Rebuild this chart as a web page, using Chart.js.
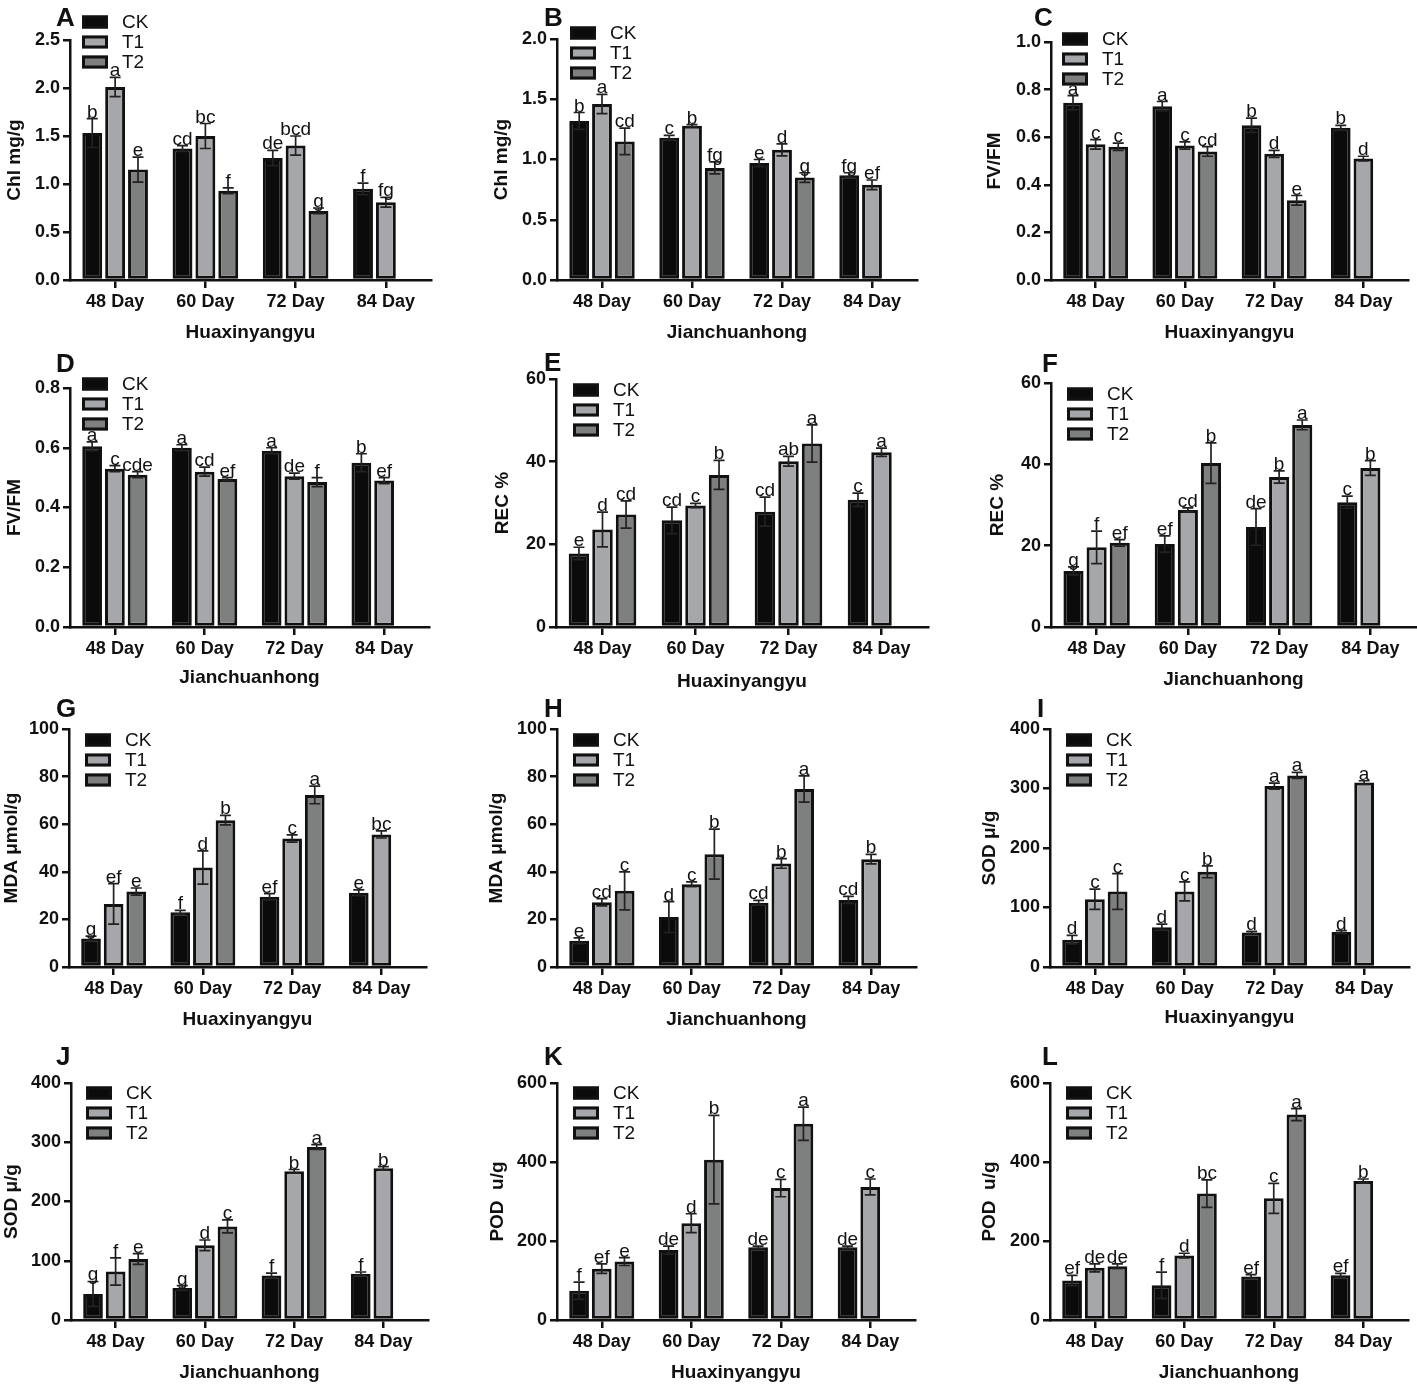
<!DOCTYPE html>
<html lang="en">
<head>
<meta charset="UTF-8">
<title>Chl, FV/FM, REC, MDA, SOD and POD under CK, T1, T2</title>
<script src="https://cdn.jsdelivr.net/npm/chart.js@4.4.0/dist/chart.umd.min.js"></script>
<style>
  body { margin: 0; background: #fff; }
  #wrap { position: relative; width: 1417px; height: 1384px; }
  #wrap canvas { position: absolute; }
</style>
</head>
<body>
<div id="wrap"></div>
<script>
const days = ['48 Day', '60 Day', '72 Day', '84 Day'];
const series = ['CK', 'T1', 'T2'];

// rows are CK, T1, T2 ; T2 was not measured at 84 Day
// A  Chl, Huaxinyangyu
const chlHx = [[1.53, 1.37, 1.27, 0.95], [2.01, 1.50, 1.40, 0.81], [1.15, 0.93, 0.72, null]];
const chlHxErr = [[0.15, 0.03, 0.08, 0.06], [0.10, 0.13, 0.10, 0.05], [0.13, 0.03, 0.03, null]];
const chlHxSig = [['b', 'cd', 'de', 'f'], ['a', 'bc', 'bcd', 'fg'], ['e', 'f', 'g', '']];
// B  Chl, Jianchuanhong
const chlJc = [[1.32, 1.18, 0.97, 0.87], [1.46, 1.28, 1.08, 0.79], [1.15, 0.93, 0.85, null]];
const chlJcErr = [[0.07, 0.02, 0.03, 0.02], [0.08, 0.01, 0.05, 0.04], [0.11, 0.05, 0.04, null]];
const chlJcSig = [['b', 'c', 'e', 'fg'], ['a', 'b', 'd', 'ef'], ['cd', 'fg', 'g', '']];
// C  FV/FM, Huaxinyangyu
const fvHx = [[0.745, 0.73, 0.65, 0.64], [0.57, 0.565, 0.53, 0.51], [0.56, 0.54, 0.335, null]];
const fvHxErr = [[0.03, 0.02, 0.03, 0.01], [0.02, 0.015, 0.015, 0.01], [0.015, 0.02, 0.02, null]];
const fvHxSig = [['a', 'a', 'b', 'b'], ['c', 'c', 'd', 'd'], ['c', 'cd', 'e', '']];
// D  FV/FM, Jianchuanhong
const fvJc = [[0.605, 0.60, 0.59, 0.55], [0.53, 0.52, 0.505, 0.49], [0.51, 0.495, 0.485, null]];
const fvJcErr = [[0.015, 0.01, 0.01, 0.03], [0.01, 0.015, 0.01, 0.01], [0.01, 0.005, 0.015, null]];
const fvJcSig = [['a', 'a', 'a', 'b'], ['c', 'cd', 'de', 'ef'], ['cde', 'ef', 'f', '']];
// E  REC %, Huaxinyangyu
const recHx = [[17.8, 25.8, 27.9, 30.8], [23.6, 29.4, 40.1, 42.3], [27.2, 36.8, 44.4, null]];
const recHxErr = [[1.5, 3.2, 3.5, 1.6], [4.2, 0.5, 1.2, 1.0], [3.3, 3.5, 4.5, null]];
const recHxSig = [['e', 'cd', 'cd', 'c'], ['d', 'c', 'ab', 'a'], ['cd', 'b', 'a', '']];
// F  REC %, Jianchuanhong
const recJc = [[13.8, 20.4, 24.6, 30.7], [19.6, 28.8, 36.9, 39.1], [20.7, 40.3, 49.7, null]];
const recJcErr = [[1.0, 2.0, 4.5, 1.5], [4.0, 0.5, 1.5, 1.8], [0.8, 5.0, 1.2, null]];
const recJcSig = [['g', 'ef', 'de', 'c'], ['f', 'cd', 'b', 'b'], ['ef', 'b', 'a', '']];
// G  MDA, Huaxinyangyu
const mdaHx = [[12, 23, 29.5, 31.2], [26.5, 41.8, 54, 55.7], [31.7, 61.7, 72.3, null]];
const mdaHxErr = [[1, 0.8, 1.3, 1.2], [8.5, 7, 1.5, 1.5], [1.5, 2, 3.7, null]];
const mdaHxSig = [['g', 'f', 'ef', 'e'], ['ef', 'd', 'c', 'bc'], ['e', 'b', 'a', '']];
// H  MDA, Jianchuanhong
const mdaJc = [[11, 21, 27, 28.2], [27.2, 34.8, 43.5, 45.3], [32, 47.4, 74.8, null]];
const mdaJcErr = [[1.2, 6.5, 1, 1.5], [1.5, 1, 2, 2], [8, 10.5, 5.5, null]];
const mdaJcSig = [['e', 'd', 'cd', 'cd'], ['cd', 'c', 'b', 'b'], ['c', 'b', 'a', '']];
// I  SOD, Huaxinyangyu
const sodHx = [[46, 67, 58, 59], [114, 127, 304, 310], [127, 160, 322, null]];
const sodHxErr = [[7, 5, 2, 2], [17, 16, 5, 3], [30, 10, 5, null]];
const sodHxSig = [['d', 'd', 'd', 'd'], ['c', 'c', 'a', 'a'], ['c', 'b', 'a', '']];
// J  SOD, Jianchuanhong
const sodJc = [[44, 54, 75, 78], [82, 126, 251, 256], [103, 158, 292, null]];
const sodJcErr = [[21, 4, 4, 3], [23, 9, 3, 3], [9, 11, 4, null]];
const sodJcSig = [['g', 'g', 'f', 'f'], ['f', 'd', 'b', 'b'], ['e', 'c', 'a', '']];
// K  POD, Huaxinyangyu
const podHx = [[74, 177, 184, 184], [130, 245, 334, 337], [148, 406, 497, null]];
const podHxErr = [[22, 10, 3, 3], [12, 24, 22, 20], [10, 112, 42, null]];
const podHxSig = [['f', 'de', 'de', 'de'], ['ef', 'd', 'c', 'c'], ['e', 'b', 'a', '']];
// L  POD, Jianchuanhong
const podJc = [[100, 88, 110, 113], [132, 163, 308, 352], [136, 320, 520, null]];
const podJcErr = [[13, 33, 5, 5], [10, 6, 38, 5], [6, 35, 15, null]];
const podJcSig = [['ef', 'f', 'ef', 'ef'], ['de', 'd', 'c', 'b'], ['de', 'bc', 'a', '']];

const chlTicksA = [0, 0.5, 1.0, 1.5, 2.0, 2.5];
const chlTicksB = [0, 0.5, 1.0, 1.5, 2.0];
const fvTicksC = [0, 0.2, 0.4, 0.6, 0.8, 1.0];
const fvTicksD = [0, 0.2, 0.4, 0.6, 0.8];
const recTicks = [0, 20, 40, 60];
const mdaTicks = [0, 20, 40, 60, 80, 100];
const sodTicks = [0, 100, 200, 300, 400];
const podTicks = [0, 200, 400, 600];

const panels = [
  { id: 'A', y: 'Chl mg/g', x: 'Huaxinyangyu', vals: chlHx, errs: chlHxErr, sig: chlHxSig, ticks: chlTicksA, dec: 1 },
  { id: 'B', y: 'Chl mg/g', x: 'Jianchuanhong', vals: chlJc, errs: chlJcErr, sig: chlJcSig, ticks: chlTicksB, dec: 1 },
  { id: 'C', y: 'FV/FM', x: 'Huaxinyangyu', vals: fvHx, errs: fvHxErr, sig: fvHxSig, ticks: fvTicksC, dec: 1 },
  { id: 'D', y: 'FV/FM', x: 'Jianchuanhong', vals: fvJc, errs: fvJcErr, sig: fvJcSig, ticks: fvTicksD, dec: 1 },
  { id: 'E', y: 'REC %', x: 'Huaxinyangyu', vals: recHx, errs: recHxErr, sig: recHxSig, ticks: recTicks, dec: 0 },
  { id: 'F', y: 'REC %', x: 'Jianchuanhong', vals: recJc, errs: recJcErr, sig: recJcSig, ticks: recTicks, dec: 0 },
  { id: 'G', y: 'MDA μmol/g', x: 'Huaxinyangyu', vals: mdaHx, errs: mdaHxErr, sig: mdaHxSig, ticks: mdaTicks, dec: 0 },
  { id: 'H', y: 'MDA μmol/g', x: 'Jianchuanhong', vals: mdaJc, errs: mdaJcErr, sig: mdaJcSig, ticks: mdaTicks, dec: 0 },
  { id: 'I', y: 'SOD μ/g', x: 'Huaxinyangyu', vals: sodHx, errs: sodHxErr, sig: sodHxSig, ticks: sodTicks, dec: 0 },
  { id: 'J', y: 'SOD μ/g', x: 'Jianchuanhong', vals: sodJc, errs: sodJcErr, sig: sodJcSig, ticks: sodTicks, dec: 0 },
  { id: 'K', y: 'POD  u/g', x: 'Huaxinyangyu', vals: podHx, errs: podHxErr, sig: podHxSig, ticks: podTicks, dec: 0 },
  { id: 'L', y: 'POD  u/g', x: 'Jianchuanhong', vals: podJc, errs: podJcErr, sig: podJcSig, ticks: podTicks, dec: 0 }
];

// page layout, absolute pixels: plot area [left, top, right, bottom], title centres, panel letter, legend offset
const colX = [0, 470, 945], colW = [470, 475, 472];
const rowY = [0, 346, 694, 1040], rowH = [346, 348, 346, 344];
const layoutOf = {
  A: { area: [70, 40, 431, 280], yT: 15, xT: 333, mark: [56, 26], leg: [12, -18] },
  B: { area: [557, 39, 917, 280], yT: 502, xT: 333, mark: [544, 26], leg: [13, -6] },
  C: { area: [1051, 42, 1408, 280], yT: 995, xT: 333, mark: [1034, 26], leg: [11, -3] },
  D: { area: [70, 388, 429, 627], yT: 15, xT: 678, mark: [56, 372], leg: [12, -4] },
  E: { area: [556, 379, 928, 627], yT: 503, xT: 682, mark: [544, 371], leg: [17, 11] },
  F: { area: [1051, 383, 1416, 627], yT: 998, xT: 680, mark: [1042, 372], leg: [16, 11] },
  G: { area: [69, 729, 426, 967], yT: 11, xT: 1020, mark: [56, 717], leg: [16, 11] },
  H: { area: [557, 729, 916, 967], yT: 497, xT: 1020, mark: [544, 717], leg: [16, 11] },
  I: { area: [1050, 729, 1409, 967], yT: 990, xT: 1018, mark: [1037, 717], leg: [16, 11] },
  J: { area: [71, 1083, 428, 1320], yT: 11, xT: 1373, mark: [56, 1065], leg: [15, 10] },
  K: { area: [557, 1083, 915, 1320], yT: 498, xT: 1373, mark: [544, 1065], leg: [16, 10] },
  L: { area: [1050, 1083, 1408, 1320], yT: 990, xT: 1373, mark: [1042, 1065], leg: [16, 10] }
};

const fills = ['#0b0b0b', '#a6a7aa', '#7e7f7f'];
const ink = '#111';
const FONT = '"Liberation Sans", Arial, sans-serif';
Chart.defaults.font.family = FONT;
Chart.defaults.color = ink;

const wrap = document.getElementById('wrap');

function makePanel(p, idx) {
  const g = layoutOf[p.id];
  const bx = colX[idx % 3], bw = colW[idx % 3];
  const by = rowY[Math.floor(idx / 3)], bh = rowH[Math.floor(idx / 3)];
  const cv = document.createElement('canvas');
  cv.width = bw; cv.height = bh;
  cv.style.left = bx + 'px'; cv.style.top = by + 'px';
  cv.style.width = bw + 'px'; cv.style.height = bh + 'px';
  wrap.appendChild(cv);

  const left = g.area[0] - bx, top = g.area[1] - by;
  const right = g.area[2] - bx, bottom = g.area[3] - by;
  const tSize = 19, lh = tSize * 1.2;

  const deco = {
    id: 'deco' + p.id,
    afterDatasetsDraw(chart) {
      const ctx = chart.ctx, ys = chart.scales.y;
      ctx.save();
      chart.data.datasets.forEach((ds, k) => {
        const meta = chart.getDatasetMeta(k);
        meta.data.forEach((bar, j) => {
          const v = ds.data[j];
          if (v === null) return;
          const e = ds.err[j];
          const yHi = ys.getPixelForValue(v + e), yLo = ys.getPixelForValue(v - e);
          ctx.strokeStyle = '#222';
          ctx.lineWidth = 1.7;
          ctx.beginPath();
          ctx.moveTo(bar.x, yLo); ctx.lineTo(bar.x, yHi);
          ctx.moveTo(bar.x - 5.5, yHi); ctx.lineTo(bar.x + 5.5, yHi);
          ctx.moveTo(bar.x - 5.5, yLo); ctx.lineTo(bar.x + 5.5, yLo);
          ctx.stroke();
          ctx.fillStyle = ink;
          ctx.font = '19px ' + FONT;
          ctx.textAlign = 'center';
          ctx.textBaseline = 'alphabetic';
          ctx.fillText(ds.sig[j], bar.x, yHi - 1);
        });
      });
      ctx.restore();
    },
    afterDraw(chart) {
      const ctx = chart.ctx, a = chart.chartArea;
      ctx.save();
      // legend inside the plot
      const lx = a.left + g.leg[0], ly = a.top + g.leg[1];
      chart.data.datasets.forEach((ds, k) => {
        const cy = ly + k * 20;
        ctx.fillStyle = ds.backgroundColor;
        ctx.fillRect(lx, cy - 6.5, 26, 13);
        ctx.strokeStyle = ink;
        ctx.lineWidth = 3;
        ctx.strokeRect(lx + 1.5, cy - 5, 23, 10);
        ctx.fillStyle = ink;
        ctx.font = '19px ' + FONT;
        ctx.textAlign = 'left';
        ctx.textBaseline = 'middle';
        ctx.fillText(ds.label, lx + 40, cy + 1);
      });
      // panel letter
      ctx.font = 'bold 26px ' + FONT;
      ctx.textBaseline = 'alphabetic';
      ctx.fillText(p.id, g.mark[0] - bx, g.mark[1] - by);
      ctx.restore();
    }
  };

  new Chart(cv, {
    type: 'bar',
    data: {
      labels: days,
      datasets: series.map((s, k) => ({
        label: s,
        data: p.vals[k],
        err: p.errs[k],
        sig: p.sig[k],
        backgroundColor: fills[k],
        borderColor: ink,
        borderWidth: 3,
        borderSkipped: false,
        categoryPercentage: 0.76,
        barPercentage: 0.87
      }))
    },
    options: {
      responsive: false,
      animation: false,
      devicePixelRatio: 1,
      layout: { padding: { left: 0, top: top, right: bw - right, bottom: 0 } },
      plugins: { legend: { display: false }, tooltip: { enabled: false } },
      scales: {
        x: {
          offset: true,
          grid: { display: true, drawOnChartArea: false, offset: false, tickLength: 8, lineWidth: 2.5, color: ink },
          border: { display: true, color: ink, width: 2.5 },
          ticks: { font: { size: 18, weight: 'bold' }, color: ink, padding: 3, maxRotation: 0 },
          title: {
            display: true, text: p.x, color: ink,
            font: { size: tSize, weight: 'bold' },
            padding: { top: 0, bottom: Math.max(0, bh - (g.xT - by) - lh / 2) }
          },
          afterFit: s => { s.height = bh - bottom; }
        },
        y: {
          min: 0,
          max: p.ticks[p.ticks.length - 1],
          afterBuildTicks: s => { s.ticks = p.ticks.map(v => ({ value: v })); },
          grid: { display: true, drawOnChartArea: false, tickLength: 7, lineWidth: 2.5, color: ink },
          border: { display: true, color: ink, width: 2.5 },
          ticks: { font: { size: 18, weight: 'bold' }, color: ink, padding: 3, callback: v => Number(v).toFixed(p.dec) },
          title: {
            display: true, text: p.y, color: ink,
            font: { size: tSize, weight: 'bold' },
            padding: { top: Math.max(0, g.yT - bx - lh / 2), bottom: 0 }
          },
          afterFit: s => { s.width = left; }
        }
      }
    },
    plugins: [deco]
  });
}

panels.forEach(makePanel);
</script>
</body>
</html>
